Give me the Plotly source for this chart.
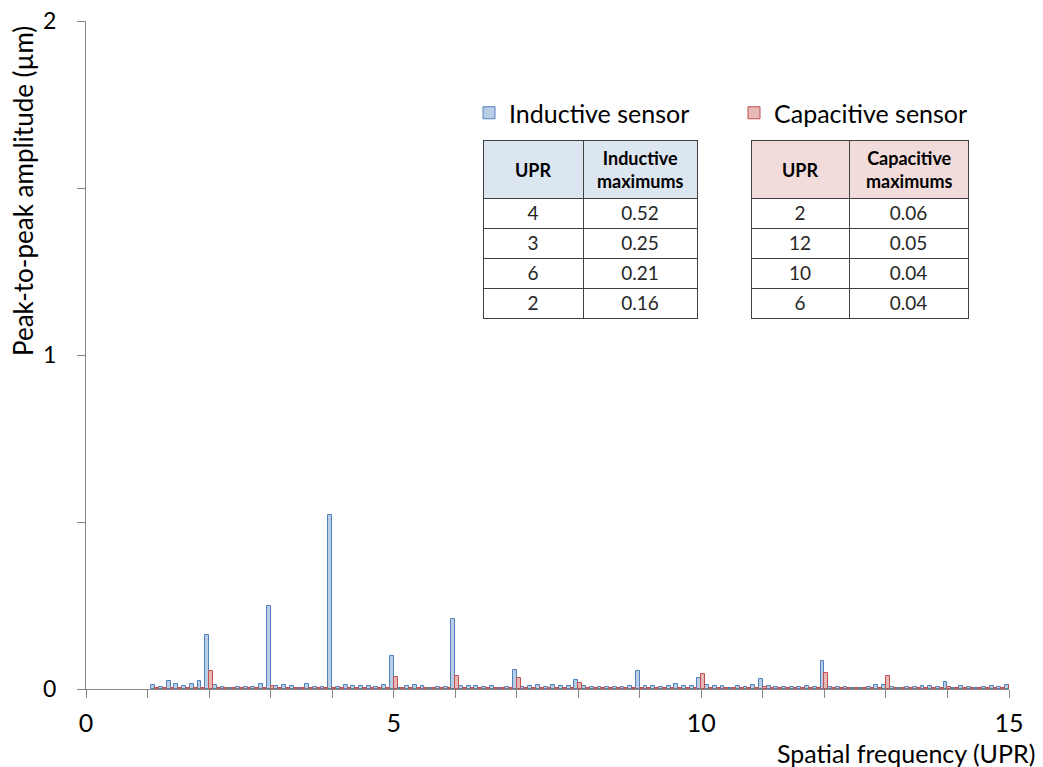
import plotly.graph_objects as go

# ---------------- data ----------------
upr = [
    1.125, 1.25, 1.375, 1.5, 1.625, 1.75, 1.875, 2.0,
    2.125, 2.25, 2.375, 2.5, 2.625, 2.75, 2.875, 3.0,
    3.125, 3.25, 3.375, 3.5, 3.625, 3.75, 3.875, 4.0,
    4.125, 4.25, 4.375, 4.5, 4.625, 4.75, 4.875, 5.0,
    5.125, 5.25, 5.375, 5.5, 5.625, 5.75, 5.875, 6.0,
    6.125, 6.25, 6.375, 6.5, 6.625, 6.75, 6.875, 7.0,
    7.125, 7.25, 7.375, 7.5, 7.625, 7.75, 7.875, 8.0,
    8.125, 8.25, 8.375, 8.5, 8.625, 8.75, 8.875, 9.0,
    9.125, 9.25, 9.375, 9.5, 9.625, 9.75, 9.875, 10.0,
    10.125, 10.25, 10.375, 10.5, 10.625, 10.75, 10.875, 11.0,
    11.125, 11.25, 11.375, 11.5, 11.625, 11.75, 11.875, 12.0,
    12.125, 12.25, 12.375, 12.5, 12.625, 12.75, 12.875, 13.0,
    13.125, 13.25, 13.375, 13.5, 13.625, 13.75, 13.875, 14.0,
    14.125, 14.25, 14.375, 14.5, 14.625, 14.75, 14.875, 15.0,
]

inductive = [
    0.013, 0.006, 0.023, 0.016, 0.009, 0.016, 0.023, 0.162,
    0.013, 0.006, 0.002, 0.006, 0.006, 0.006, 0.016, 0.250,
    0.009, 0.013, 0.009, 0.002, 0.016, 0.006, 0.006, 0.520,
    0.006, 0.013, 0.009, 0.009, 0.009, 0.006, 0.013, 0.100,
    0.002, 0.009, 0.013, 0.009, 0.002, 0.006, 0.006, 0.210,
    0.009, 0.009, 0.009, 0.006, 0.009, 0.002, 0.006, 0.058,
    0.006, 0.009, 0.013, 0.006, 0.013, 0.009, 0.009, 0.027,
    0.009, 0.006, 0.006, 0.006, 0.006, 0.006, 0.009, 0.055,
    0.009, 0.009, 0.006, 0.009, 0.016, 0.009, 0.009, 0.033,
    0.013, 0.009, 0.009, 0.002, 0.009, 0.006, 0.013, 0.030,
    0.009, 0.006, 0.006, 0.006, 0.006, 0.009, 0.006, 0.083,
    0.006, 0.006, 0.006, 0.002, 0.002, 0.006, 0.013, 0.013,
    0.006, 0.002, 0.006, 0.006, 0.009, 0.009, 0.006, 0.020,
    0.002, 0.009, 0.006, 0.002, 0.006, 0.009, 0.006, 0.013,
]

capacitive = [
    0.002, 0.002, 0.002, 0.002, 0.002, 0.002, 0.002, 0.055,
    0.002, 0.002, 0.002, 0.002, 0.002, 0.002, 0.002, 0.010,
    0.002, 0.002, 0.002, 0.002, 0.002, 0.002, 0.002, 0.003,
    0.002, 0.002, 0.002, 0.002, 0.002, 0.002, 0.002, 0.036,
    0.002, 0.002, 0.002, 0.002, 0.002, 0.002, 0.002, 0.040,
    0.002, 0.002, 0.002, 0.002, 0.002, 0.002, 0.002, 0.033,
    0.002, 0.002, 0.002, 0.002, 0.002, 0.002, 0.002, 0.019,
    0.002, 0.002, 0.002, 0.002, 0.002, 0.002, 0.002, 0.002,
    0.002, 0.002, 0.002, 0.002, 0.002, 0.002, 0.002, 0.045,
    0.002, 0.002, 0.002, 0.002, 0.002, 0.002, 0.002, 0.006,
    0.002, 0.002, 0.002, 0.002, 0.002, 0.002, 0.002, 0.048,
    0.002, 0.002, 0.002, 0.002, 0.002, 0.002, 0.002, 0.038,
    0.002, 0.002, 0.002, 0.002, 0.002, 0.002, 0.002, 0.006,
    0.002, 0.002, 0.002, 0.002, 0.002, 0.002, 0.002, 0.012,
]

x_tickvals = [0, 1, 2, 3, 4, 5, 6, 7, 8, 9, 10, 11, 12, 13, 14, 15]
x_ticktext = ["0", "", "", "", "", "5", "", "", "", "", "10", "", "", "", "", "15"]
y_tickvals = [0, 0.5, 1, 1.5, 2]
y_ticktext = ["0", "", "1", "", "2"]

ind_table_header = ["UPR", "Inductive<br>maximums"]
ind_table_upr = ["4", "3", "6", "2"]
ind_table_max = ["0.52", "0.25", "0.21", "0.16"]
cap_table_header = ["UPR", "Capacitive<br>maximums"]
cap_table_upr = ["2", "12", "10", "6"]
cap_table_max = ["0.06", "0.05", "0.04", "0.04"]

# ---------------- layout helpers (page pixels -> paper) ----------------
OFF = 8                      # page body margin around the figure
W, H = 1043 - OFF, 767 - OFF
ML, MR, MT, MB = 86 - OFF, 34, 21 - OFF, 78
PW, PH = W - ML - MR, H - MT - MB


def px_x(p):
    return (p - OFF - ML) / PW


def px_y(p):
    return (H - MB - (p - OFF)) / PH


FONT = "Lato"
BIG = 25

fig = go.Figure()

fig.add_trace(go.Bar(
    x=upr, y=inductive, name="Inductive sensor",
    marker=dict(color="#b9cde5", line=dict(color="#4f81bd", width=1)),
))
fig.add_trace(go.Bar(
    x=upr, y=capacitive, name="Capacitive sensor",
    marker=dict(color="#e6b9b8", line=dict(color="#c0504d", width=1)),
))

cell_font = dict(family=FONT, size=19, color="#262626")
border = dict(color="#404040", width=1)

tables = [
    dict(x0=483, xm=583, x1=697, fill="#dce6f1", header=ind_table_header,
         cols=[ind_table_upr, ind_table_max]),
    dict(x0=751, xm=849, x1=968, fill="#f2dcdb", header=cap_table_header,
         cols=[cap_table_upr, cap_table_max]),
]
T_TOP, T_HEAD, T_BOT = 140, 198, 320

annotations = []
for t in tables:
    fig.add_trace(go.Table(
        domain=dict(x=[px_x(t["x0"]), px_x(t["x1"])], y=[px_y(T_BOT), px_y(T_TOP)]),
        columnwidth=[t["xm"] - t["x0"], t["x1"] - t["xm"]],
        header=dict(values=["", ""], fill_color=t["fill"], line=border,
                    height=T_HEAD - T_TOP),
        cells=dict(values=t["cols"], fill_color="white", line=border,
                   font=cell_font, align="center", height=30),
    ))
    for label, a, b in zip(t["header"], [t["x0"], t["xm"]], [t["xm"], t["x1"]]):
        annotations.append(dict(
            text="<b>" + label + "</b>", xref="paper", yref="paper",
            x=px_x((a + b) / 2), y=px_y((T_TOP + T_HEAD) / 2 + 1),
            xanchor="center", yanchor="middle", showarrow=False,
            font=dict(family=FONT, size=18, color="#000000")))

annotations += [
    dict(text="Spatial frequency (UPR)", xref="paper", yref="paper",
         x=px_x(1037), y=px_y(753), xanchor="right", yanchor="middle",
         showarrow=False, font=dict(family=FONT, size=BIG)),
    dict(text="Peak-to-peak amplitude (µm)", xref="paper", yref="paper",
         x=px_x(23), y=px_y(24), xanchor="center", yanchor="top",
         textangle=-90, showarrow=False, font=dict(family=FONT, size=26)),
]

fig.update_layout(
    width=W, height=H,
    margin=dict(l=ML, r=MR, t=MT, b=MB, autoexpand=False),
    paper_bgcolor="white", plot_bgcolor="white",
    font=dict(family=FONT, size=BIG, color="#000000"),
    barmode="group", bargap=0.0, bargroupgap=0,
    showlegend=True,
    legend=dict(orientation="h", x=px_x(469), xanchor="left",
                y=px_y(113), yanchor="middle",
                font=dict(family=FONT, size=BIG, color="#000000"),
                entrywidth=220, entrywidthmode="pixels",
                bgcolor="rgba(0,0,0,0)"),
    xaxis=dict(range=[0, 15], tickvals=x_tickvals, ticktext=x_ticktext,
               ticks="outside", ticklen=8, tickcolor="#868686", tickwidth=1,
               showline=True, linecolor="#868686", linewidth=1,
               showgrid=False, zeroline=False, layer="below traces",
               automargin=False, ticklabeloverflow="allow",
               tickfont=dict(family=FONT, size=BIG), ticklabelstandoff=4),
    yaxis=dict(range=[0, 2], tickvals=y_tickvals, ticktext=y_ticktext,
               ticks="outside", ticklen=8, tickcolor="#868686", tickwidth=1,
               showline=True, linecolor="#868686", linewidth=1,
               showgrid=False, zeroline=False, automargin=False,
               ticklabeloverflow="allow",
               tickfont=dict(family=FONT, size=23), ticklabelstandoff=16),
    annotations=annotations,
)

fig.write_html("out.html")
